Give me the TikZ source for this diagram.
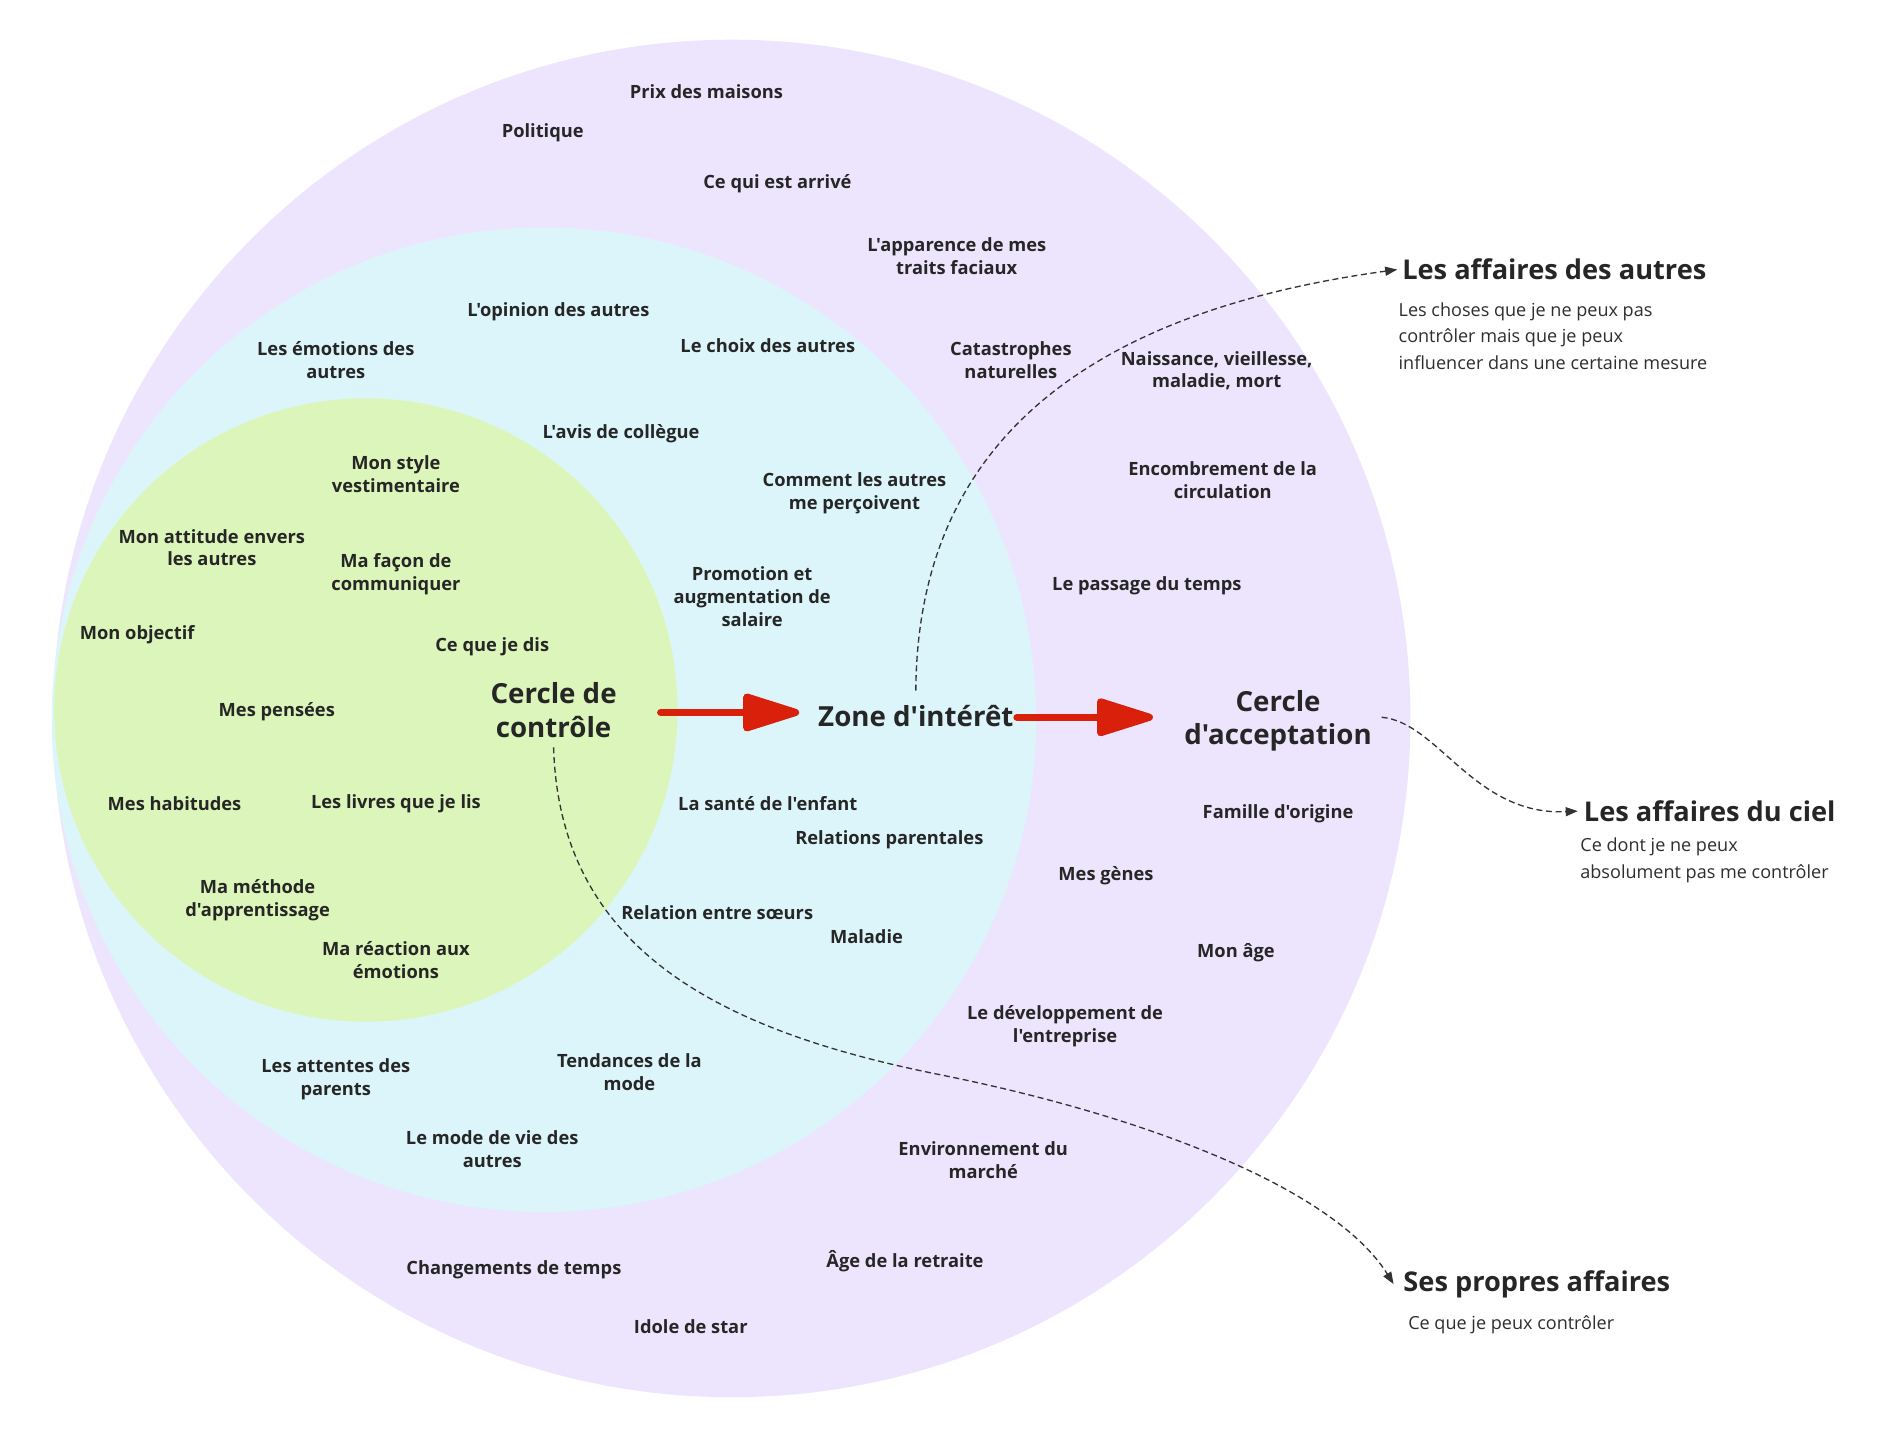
\documentclass[tikz,border=0pt]{standalone}
\usepackage{fontspec}
\newfontfamily\osf{Open Sans}
\usetikzlibrary{arrows.meta}
\definecolor{purplebg}{HTML}{EDE5FD}
\definecolor{cyanbg}{HTML}{DCF5FB}
\definecolor{greenbg}{HTML}{DCF5BA}
\definecolor{txt}{HTML}{262626}
\definecolor{bodytxt}{HTML}{2E2E2E}
\definecolor{arrowred}{HTML}{D9200B}
\definecolor{dashcol}{HTML}{333333}
\tikzset{
  item/.style={align=center, font=\osf\bfseries\fontsize{15.2}{19}\selectfont, text=txt, inner sep=0pt, yshift=-2pt},
  biglabel/.style={align=center, font=\osf\bfseries\fontsize{23}{28}\selectfont, text=txt, inner sep=0pt},
  heading/.style={anchor=west, font=\osf\bfseries\fontsize{22.6}{28}\selectfont, text=txt, inner sep=0pt},
  bodytext/.style={anchor=west, align=left, font=\osf\fontsize{15}{22}\selectfont, text=bodytxt, inner sep=0pt, yshift=-1pt},
  redarrow/.style={draw=arrowred, fill=arrowred, line width=6pt, line cap=round,
    -{Triangle[length=54pt,width=32pt,round]}},
  dasharrow/.style={draw=dashcol, line width=1.1pt, dash pattern=on 5pt off 3pt,
    -{Triangle[length=10pt,width=7.5pt]}},
}
\begin{document}
\begin{tikzpicture}[x=1pt,y=-1pt]
\useasboundingbox (0,0) rectangle (1568,1194);
\fill[white] (0,0) rectangle (1568,1194);
% circles
\fill[purplebg] (608,597) circle[radius=564];
\fill[cyanbg] (452,598) circle[radius=409];
\fill[greenbg] (304,590) circle[radius=259];

% purple zone items
\node[item] (p1) at (587,74) {Prix des maisons};
\node[item] (p2) at (451,108) {Politique};
\node[item] (p3) at (646,151) {Ce qui est arrivé};
\node[item] (p4) at (795,211) {L'apparence de mes\\traits faciaux};
\node[item] (p5) at (840,297) {Catastrophes\\naturelles};
\node[item] (p6) at (1011,306) {Naissance, vieillesse,\\maladie, mort};
\node[item] (p7) at (1016,397) {Encombrement de la\\circulation};
\node[item] (p8) at (953,485) {Le passage du temps};
\node[item] (p9) at (1062,674) {Famille d'origine};
\node[item] (p10) at (919,726) {Mes gènes};
\node[item] (p11) at (1027,790) {Mon âge};
\node[item] (p12) at (885,851) {Le développement de\\l'entreprise};
\node[item] (p13) at (817,962) {Environnement du\\marché};
\node[item] (p14) at (752,1046) {Âge de la retraite};
\node[item] (p15) at (427,1053) {Changements de temps};
\node[item] (p16) at (574,1100) {Idole de star};

% cyan zone items
\node[item] (c1) at (464,257) {L'opinion des autres};
\node[item] (c2) at (279,297) {Les émotions des\\autres};
\node[item] (c3) at (638,285) {Le choix des autres};
\node[item] (c4) at (516,358) {L'avis de collègue};
\node[item] (c5) at (710,408) {Comment les autres\\me perçoivent};
\node[item] (c6) at (625,494) {Promotion et\\augmentation de\\salaire};
\node[item] (c7) at (638,666) {La santé de l'enfant};
\node[item] (c8) at (739,696) {Relations parentales};
\node[item] (c9) at (596,756) {Relation entre sœurs};
\node[item] (c10) at (720,776) {Maladie};
\node[item] (c11) at (279,895) {Les attentes des\\parents};
\node[item] (c12) at (523,889) {Tendances de la\\mode};
\node[item] (c13) at (409,953) {Le mode de vie des\\autres};

% green zone items
\node[item] (g1) at (329,392) {Mon style\\vestimentaire};
\node[item] (g2) at (176,453) {Mon attitude envers\\les autres};
\node[item] (g3) at (329,475) {Ma façon de\\communiquer};
\node[item] (g4) at (114,525) {Mon objectif};
\node[item] (g5) at (409,535) {Ce que je dis};
\node[item] (g6) at (230,589) {Mes pensées};
\node[item] (g7) at (145,666) {Mes habitudes};
\node[item] (g8) at (329,666) {Les livres que je lis};
\node[item] (g9) at (214,746) {Ma méthode\\d'apprentissage};
\node[item] (g10) at (329,796) {Ma réaction aux\\émotions};

% big labels
\node[biglabel] (ctrl) at (460,590) {Cercle de\\contrôle};
\node[biglabel] (zone) at (761,595) {Zone d'intérêt};
\node[biglabel] (accept) at (1062,599) {Cercle\\d'acceptation};

% right headings
\node[heading] (autres) at (1165,224) {Les affaires des autres};
\node[bodytext] (autresdesc) at (1162,278) {Les choses que je ne peux pas\\contrôler mais que je peux\\influencer dans une certaine mesure};
\node[heading] (ciel) at (1316,674) {Les affaires du ciel};
\node[bodytext] (cieldesc) at (1313,714) {Ce dont je ne peux\\absolument pas me contrôler};
\node[heading] (propres) at (1166,1067) {Ses propres affaires};
\node[bodytext] (propresdesc) at (1170,1100) {Ce que je peux contrôler};

% red arrows
\coordinate (r1s) at (549,592);
\coordinate (r1e) at (664,592);
\coordinate (r2s) at (845,596);
\coordinate (r2e) at (958,596);
\draw[redarrow] (r1s) -- (r1e);
\draw[redarrow] (r2s) -- (r2e);

% dashed connectors
\draw[dasharrow] ([yshift=12pt]zone.north) .. controls (762,420) and (840,268) .. ([xshift=-4pt]autres.west);
\draw[dasharrow] ([xshift=8pt,yshift=3pt]accept.east) .. controls (1195,600) and (1225,678) .. ([xshift=-5pt]ciel.west);
\coordinate (cmid) at (781,893);
\draw[dasharrow] ([yshift=-8pt]ctrl.south) .. controls (465,790) and (600,857) .. (cmid)
   .. controls (960,929) and (1110,990) .. ([xshift=-8pt]propres.west);
\end{tikzpicture}
\end{document}
